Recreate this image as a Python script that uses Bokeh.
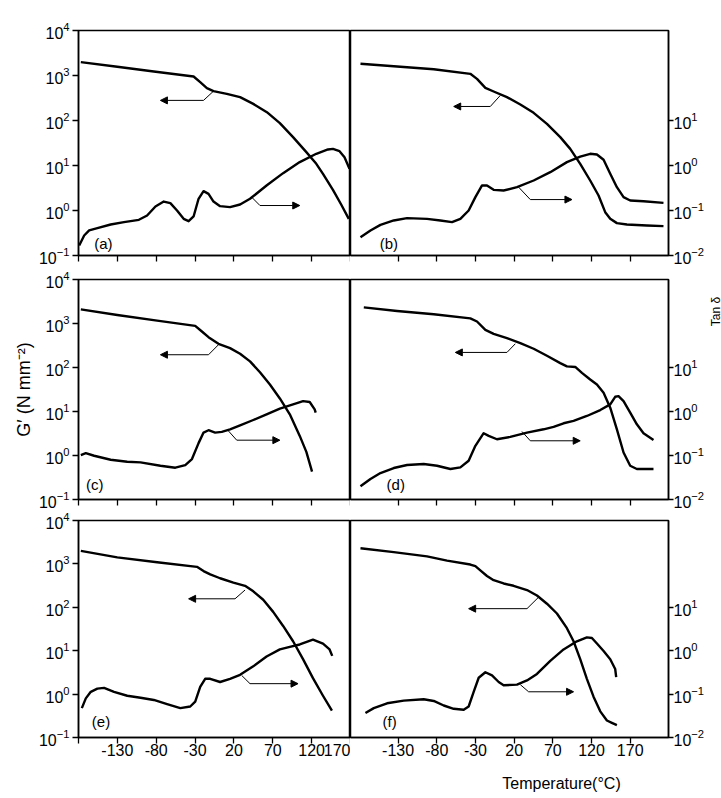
import math
from bokeh.plotting import figure
from bokeh.layouts import column, row
from bokeh.models import (Range1d, LogScale, LogAxis, FixedTicker, LogTickFormatter,
                          CustomJSTickFormatter, CustomLabelingPolicy,
                          Label, Arrow, NormalHead)
from bokeh.embed import file_html
from bokeh.resources import INLINE

# ---------------- data ----------------
X_TICKS_LEFT = [-180, -130, -80, -30, 20, 70, 120, 170]
X_TICKS_RIGHT = [-130, -80, -30, 20, 70, 120, 170]
G_TICKS = [0.1, 1, 10, 100, 1000, 10000]
TAN_TICKS = [0.01, 0.1, 1, 10]

# (a)
A_G_X = [-177.0, -130.1, -83.1, -31.9, -23.4, -14.8, -6.3, 10.8, 27.9, 44.9, 62.4, 79.1, 96.1, 113.2, 126.0, 134.6, 147.4, 158.0, 167.8]
A_G_Y = [1980, 1560, 1230, 951, 711, 524, 449, 392, 330, 234, 153, 87.3, 42.7, 19.8, 10.9, 6.53, 2.88, 1.36, 0.653]
A_T_X = [-179.1, -172.7, -166.3, -155.7, -138.6, -121.5, -102.3, -91.7, -81.0, -70.3, -61.8, -53.2, -44.7, -38.3, -31.9, -25.5, -19.1, -12.7, -6.3, 2.2, 15.0, 27.9, 40.7, 62.0, 83.3, 104.7, 126.0, 141.0, 147.4, 155.9, 162.3, 168.7]
A_T_Y = [0.0167, 0.0278, 0.0360, 0.0405, 0.0489, 0.0551, 0.0621, 0.0774, 0.123, 0.158, 0.146, 0.100, 0.0653, 0.0579, 0.0736, 0.182, 0.269, 0.234, 0.158, 0.125, 0.119, 0.136, 0.182, 0.360, 0.676, 1.19, 1.82, 2.27, 2.34, 2.08, 1.53, 0.843]
A_GARROW_X = [-6.3, -19.1, -74.6]
A_GARROW_Y = [449, 280]
A_TARROW_X = [42.8, 53.5, 104.7]
A_TARROW_Y = [1.98, 1.29]

# (b)
B_G_X = [-178.6, -131.3, -83.9, -36.6, -28.0, -17.2, -6.5, 10.7, 28.0, 45.2, 62.4, 79.6, 92.5, 105.4, 118.3, 129.1, 137.7, 144.2, 152.8, 165.7, 191.5, 213.0]
B_G_Y = [1820, 1580, 1380, 1090, 843, 532, 441, 330, 227, 148, 84.3, 42.7, 23.4, 10.9, 4.64, 2.15, 0.918, 0.653, 0.524, 0.489, 0.464, 0.449]
B_T_X = [-178.6, -165.7, -152.8, -135.6, -118.4, -92.6, -75.3, -60.3, -49.5, -38.8, -30.1, -21.5, -15.1, -6.5, 6.4, 23.7, 45.2, 66.7, 88.2, 105.4, 118.3, 127.0, 135.6, 144.2, 152.8, 161.4, 170.0, 187.2, 213.0]
B_T_Y = [0.0255, 0.0360, 0.0480, 0.0600, 0.0676, 0.0653, 0.0600, 0.0551, 0.0653, 0.100, 0.198, 0.360, 0.360, 0.288, 0.278, 0.330, 0.464, 0.711, 1.19, 1.58, 1.82, 1.75, 1.34, 0.653, 0.330, 0.198, 0.167, 0.161, 0.148]
B_GARROW_X = [2.1, -10.8, -58.1]
B_GARROW_Y = [360, 205]
B_TARROW_X = [25.8, 40.9, 94.7]
B_TARROW_Y = [3.30, 1.75]

# (c)
C_G_X = [-177.0, -130.1, -78.8, -29.8, -21.2, -12.7, 0.1, 15.0, 27.9, 40.7, 53.5, 66.3, 79.1, 91.9, 104.7, 113.2, 120.5]
C_G_Y = [2100, 1560, 1160, 883, 658, 490, 346, 276, 206, 138, 78.0, 41.0, 19.8, 8.61, 2.79, 1.21, 0.430]
C_T_X = [-177.0, -170.6, -159.9, -138.6, -117.3, -100.2, -74.6, -55.4, -42.6, -34.0, -25.5, -19.1, -12.7, -4.2, 4.4, 15.0, 27.9, 44.9, 62.0, 79.1, 96.1, 109.0, 117.5, 123.9, 125.2]
C_T_Y = [0.102, 0.113, 0.0986, 0.0802, 0.0721, 0.0697, 0.0586, 0.0528, 0.0607, 0.0830, 0.191, 0.332, 0.375, 0.332, 0.344, 0.394, 0.486, 0.641, 0.861, 1.16, 1.45, 1.72, 1.64, 1.12, 0.940]
C_GARROW_X = [0.1, -12.7, -74.6]
C_GARROW_Y = [329, 195]
C_TARROW_X = [12.9, 23.6, 79.1]
C_TARROW_Y = [3.62, 2.23]

# (d)
D_G_X = [-174.3, -131.3, -83.9, -36.6, -28.0, -17.2, -6.5, 10.7, 28.0, 45.2, 62.4, 79.6, 88.2, 99.0, 107.6, 118.3, 127.0, 135.6, 144.2, 152.8, 161.4, 170.0, 178.6, 200.1]
D_G_Y = [2330, 1930, 1620, 1310, 1110, 716, 582, 465, 358, 267, 185, 126, 106, 103, 75.3, 53.2, 41.0, 26.6, 12.2, 3.94, 1.17, 0.586, 0.493, 0.493]
D_T_X = [-178.6, -165.7, -152.8, -135.6, -118.4, -96.9, -79.6, -62.4, -49.5, -38.8, -30.1, -19.4, -12.9, -2.2, 15.0, 36.6, 58.1, 71.0, 83.9, 96.8, 114.0, 131.3, 144.2, 150.6, 154.9, 161.4, 170.0, 178.6, 187.2, 200.1]
D_T_Y = [0.0200, 0.0293, 0.0400, 0.0519, 0.0607, 0.0640, 0.0586, 0.0493, 0.0537, 0.0760, 0.166, 0.321, 0.279, 0.234, 0.265, 0.332, 0.394, 0.446, 0.540, 0.610, 0.791, 1.08, 1.45, 2.16, 2.23, 1.72, 0.940, 0.512, 0.321, 0.226]
D_GARROW_X = [21.5, 10.7, -56.0]
D_GARROW_Y = [346, 220]
D_TARROW_X = [30.1, 40.9, 105.4]
D_TARROW_Y = [3.51, 2.16]

# (e)
E_G_X = [-177.0, -130.1, -78.8, -27.6, -19.1, -10.5, 2.2, 19.3, 34.3, 44.9, 57.7, 70.5, 83.3, 96.1, 108.9, 121.7, 134.6, 146.1]
E_G_Y = [2000, 1410, 1090, 855, 684, 574, 467, 372, 313, 233, 149, 78.5, 37.2, 16.5, 6.38, 2.33, 0.916, 0.414]
E_T_X = [-175.7, -170.6, -164.2, -155.7, -147.1, -134.3, -117.3, -100.2, -83.1, -66.0, -49.0, -36.2, -29.8, -23.4, -17.0, -10.5, 2.2, 15.0, 27.9, 44.9, 62.0, 79.1, 91.9, 104.7, 121.7, 134.6, 143.1, 146.5]
E_T_Y = [0.0475, 0.0798, 0.113, 0.134, 0.139, 0.113, 0.0916, 0.0826, 0.0733, 0.0585, 0.0475, 0.0518, 0.0671, 0.146, 0.225, 0.225, 0.190, 0.225, 0.278, 0.436, 0.733, 1.07, 1.23, 1.39, 1.80, 1.46, 1.07, 0.759]
E_GARROW_X = [34.3, 21.4, -38.3]
E_GARROW_Y = [250, 157]
E_TARROW_X = [30.0, 40.7, 102.5]
E_TARROW_Y = [2.69, 1.74]

# (f)
F_G_X = [-178.6, -135.6, -92.6, -66.7, -36.6, -30.1, -23.7, -15.1, -6.5, 6.4, 19.3, 36.6, 49.5, 62.4, 75.3, 88.2, 96.8, 105.4, 114.0, 122.6, 131.3, 139.9, 146.3, 152.8]
F_G_Y = [2300, 1870, 1490, 1190, 966, 885, 708, 527, 421, 354, 313, 250, 187, 121, 71.9, 33.0, 16.5, 6.38, 2.25, 0.871, 0.400, 0.246, 0.218, 0.193]
F_T_X = [-172.2, -161.4, -144.2, -122.7, -96.9, -83.9, -71.0, -58.1, -45.2, -38.8, -32.3, -25.8, -17.2, -8.6, 0.0, 6.4, 23.7, 36.6, 49.5, 66.7, 83.9, 101.1, 114.0, 120.5, 127.0, 135.6, 144.2, 150.6, 151.9]
F_T_Y = [0.0366, 0.0475, 0.0615, 0.0708, 0.0759, 0.0695, 0.0546, 0.0459, 0.0436, 0.0518, 0.113, 0.238, 0.319, 0.269, 0.190, 0.160, 0.165, 0.207, 0.292, 0.585, 1.07, 1.65, 2.03, 1.96, 1.46, 0.982, 0.638, 0.379, 0.246]
F_GARROW_X = [51.6, 36.6, -38.8]
F_GARROW_Y = [171, 93]
F_TARROW_X = [28.0, 38.7, 96.8]
F_TARROW_Y = [1.65, 1.13]

PANEL_LABELS = ["(a)", "(b)", "(c)", "(d)", "(e)", "(f)"]
PANEL_LABEL_X = [-148, -142, -159, -133, -151, -141]
PANEL_LABEL_Y = [0.182, 0.182, 0.214, 0.214, 0.229, 0.229]

# ---------------- styling ----------------
FONT = "Liberation Sans"
TICK_FS = "16px"

X_FMT = "return (tick <= -180) ? '' : String(tick);"
NO_LABELS = "for (const i of Array.from(indices)) { indices.unset(i); } return indices;"

ROW_FRAME_H = [225, 220, 217]
ROW_TOP = [30, 10, 8]
ROW_BOTTOM = [14, 13, 26]


def style_axis(ax):
    ax.axis_line_color = "black"
    ax.axis_line_width = 1.5
    ax.major_tick_line_color = "black"
    ax.major_tick_line_width = 1.3
    ax.major_tick_out = 6
    ax.major_tick_in = 0
    ax.minor_tick_out = 0
    ax.minor_tick_in = 0
    ax.major_label_text_font = FONT
    ax.major_label_text_font_size = TICK_FS
    ax.major_label_text_color = "black"


def panel(idx, gx, gy, tx, ty, gax, gay, tax, tay):
    col = idx % 2
    rowi = idx // 2
    left = col == 0
    xr = Range1d(-180, 170) if left else Range1d(-191.5, 219.5)
    fw = 272 if left else 318
    right_border = 0 if left else (34 if rowi == 1 else 52)
    p = figure(frame_width=fw, frame_height=ROW_FRAME_H[rowi], x_range=xr,
               y_range=Range1d(0.1, 1e4), y_axis_type="log",
               y_axis_location="left" if left else None,
               toolbar_location=None, output_backend="svg",
               min_border_left=78 if left else 0,
               min_border_right=right_border,
               min_border_top=ROW_TOP[rowi], min_border_bottom=ROW_BOTTOM[rowi],
               background_fill_color="white", border_fill_color="white")
    p.grid.visible = False
    p.outline_line_color = "black"
    p.outline_line_width = 1.5
    p.outline_line_alpha = 1.0

    p.extra_y_ranges = {"tan": Range1d(0.01, 1000)}
    p.extra_y_scales = {"tan": LogScale()}

    xa = p.xaxis[0]
    style_axis(xa)
    xa.ticker = FixedTicker(ticks=X_TICKS_LEFT if left else X_TICKS_RIGHT)
    xa.formatter = CustomJSTickFormatter(code=X_FMT)
    xa.major_label_standoff = 0
    if rowi < 2:
        xa.major_label_policy = CustomLabelingPolicy(code=NO_LABELS)
        xa.major_label_text_font_size = "1px"

    if left:
        ya = p.yaxis[0]
        style_axis(ya)
        ya.ticker = FixedTicker(ticks=G_TICKS)
        ya.formatter = LogTickFormatter()
        ya.major_label_standoff = 3
        if rowi == 1:
            ya.axis_label = "G\u2032 (N mm\u207b\u00b2)"
            ya.axis_label_text_font = FONT
            ya.axis_label_text_font_size = "18px"
            ya.axis_label_text_font_style = "normal"
            ya.axis_label_text_color = "black"
            ya.axis_label_standoff = 2
    else:
        ra = LogAxis(y_range_name="tan", ticker=FixedTicker(ticks=TAN_TICKS),
                     formatter=LogTickFormatter())
        style_axis(ra)
        ra.major_tick_out = 5
        ra.major_label_standoff = 0
        p.add_layout(ra, "right")

    p.line(gx, gy, line_width=2.4, line_color="black", line_join="round")
    p.line(tx, ty, y_range_name="tan", line_width=2.4, line_color="black",
           line_join="round")

    for ax_, ay_ in ((gax, gay), (tax, tay)):
        p.line([ax_[0], ax_[1]], [ay_[0], ay_[1]], line_width=1, line_color="black")
        p.add_layout(Arrow(end=NormalHead(size=7, line_color="black", fill_color="black", line_width=1),
                           x_start=ax_[1], y_start=ay_[1], x_end=ax_[2], y_end=ay_[1],
                           line_width=1, line_color="black"))

    p.add_layout(Label(x=PANEL_LABEL_X[idx], y=PANEL_LABEL_Y[idx], text=PANEL_LABELS[idx],
                       text_font=FONT, text_font_size="15px",
                       text_align="center", text_baseline="middle", text_color="black"))
    return p


def strip(fw, fh, top=0, bottom=0):
    s = figure(frame_width=fw, frame_height=fh, x_range=Range1d(0, fw), y_range=Range1d(0, fh),
               x_axis_location=None, y_axis_location=None, toolbar_location=None,
               output_backend="svg", min_border_left=0, min_border_right=0,
               min_border_top=top, min_border_bottom=bottom,
               background_fill_color="white", border_fill_color="white")
    s.grid.visible = False
    s.outline_line_color = None
    return s


pa = panel(0, A_G_X, A_G_Y, A_T_X, A_T_Y, A_GARROW_X, A_GARROW_Y, A_TARROW_X, A_TARROW_Y)
pb = panel(1, B_G_X, B_G_Y, B_T_X, B_T_Y, B_GARROW_X, B_GARROW_Y, B_TARROW_X, B_TARROW_Y)
pc = panel(2, C_G_X, C_G_Y, C_T_X, C_T_Y, C_GARROW_X, C_GARROW_Y, C_TARROW_X, C_TARROW_Y)
pd = panel(3, D_G_X, D_G_Y, D_T_X, D_T_Y, D_GARROW_X, D_GARROW_Y, D_TARROW_X, D_TARROW_Y)
pe = panel(4, E_G_X, E_G_Y, E_T_X, E_T_Y, E_GARROW_X, E_GARROW_Y, E_TARROW_X, E_TARROW_Y)
pf = panel(5, F_G_X, F_G_Y, F_T_X, F_T_Y, F_GARROW_X, F_GARROW_Y, F_TARROW_X, F_TARROW_Y)

# narrow strip to the right of (d) that carries the "Tan δ" axis title
pt = strip(16, ROW_FRAME_H[1], top=ROW_TOP[1], bottom=ROW_BOTTOM[1])
pt.add_layout(Label(x=8, y=188, text="Tan \u03b4", angle=math.pi / 2,
                    text_font=FONT, text_font_size="12px",
                    text_align="center", text_baseline="middle", text_color="black"))

# strip under the bottom row that carries the x-axis title
px = strip(713, 32)
px.add_layout(Label(x=561, y=12, text="Temperature(\u00b0C)",
                    text_font=FONT, text_font_size="16px",
                    text_align="center", text_baseline="middle", text_color="black"))

layout = column(row(pa, pb), row(pc, pd, pt), row(pe, pf), px)

with open("out.html", "w", encoding="utf-8") as fh:
    fh.write(file_html(layout, INLINE))
